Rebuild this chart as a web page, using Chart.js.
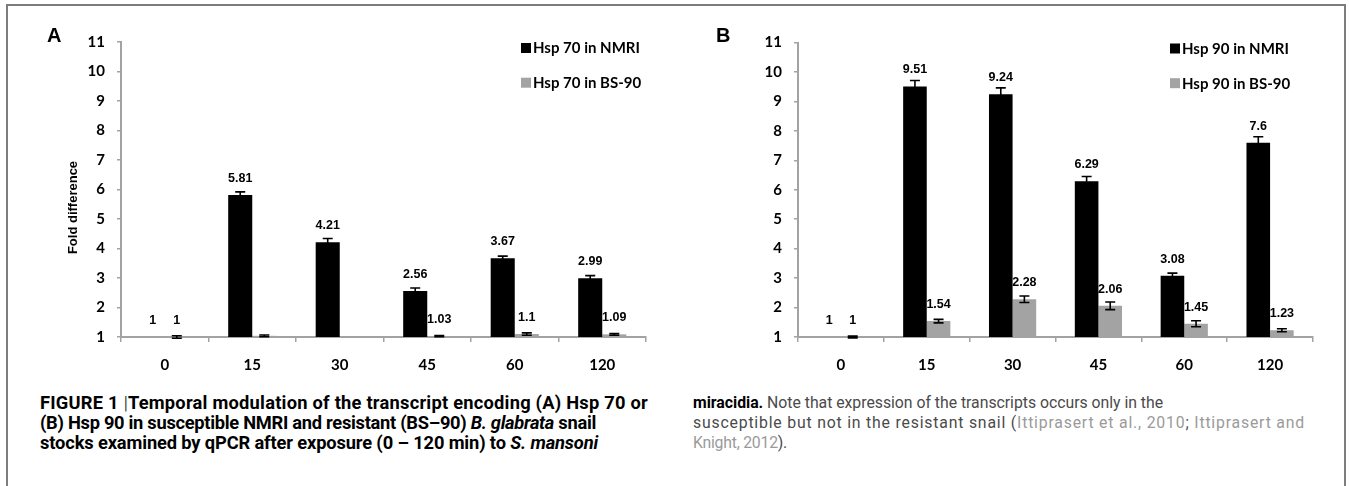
<!DOCTYPE html>
<html><head><meta charset="utf-8">
<script src="https://cdn.jsdelivr.net/npm/chart.js@4.4.0/dist/chart.umd.min.js"></script>
<style>
html,body{margin:0;padding:0;background:#fff;width:1349px;height:486px;overflow:hidden;position:relative;font-family:Roboto,sans-serif}
#frame{position:absolute;left:6px;top:4px;width:1340px;height:520px;border:2px solid #7d7d7d;border-bottom:none;box-sizing:border-box}
.panel{position:absolute;top:0;height:390px}
#wa{left:0;width:675px}
#wb{left:675px;width:674px}
.letter{position:absolute;top:24px;font:bold 20px 'Liberation Sans',Arial,sans-serif;color:#000;line-height:23px}
.cap{position:absolute;top:393px;line-height:20px;white-space:nowrap}
.cap .ln{display:inline-block;white-space:nowrap}
#capL{left:40px;font-weight:bold;color:#000;font-size:18.3px}
#capR{left:693px;color:#4a4a4a;font-size:15.8px}
#capR b{color:#000}
.ref{color:#9a9a9a}
.bar{font-weight:300}
</style></head>
<body>
<div id="frame"></div>
<div class="panel" id="wa"><canvas id="ca" width="675" height="390"></canvas></div>
<div class="panel" id="wb"><canvas id="cb" width="674" height="390"></canvas></div>
<div class="letter" style="left:47px">A</div>
<div class="letter" style="left:716px">B</div>
<div class="cap" id="capL"><span class="ln" data-w="608">FIGURE 1 <span class="bar">|</span>Temporal modulation of the transcript encoding (A) Hsp 70 or</span><br><span class="ln" data-w="556">(B) Hsp 90 in susceptible NMRI and resistant (BS–90) <i>B. glabrata</i> snail</span><br><span class="ln" data-w="558">stocks examined by qPCR after exposure (0 – 120 min) to <i>S. mansoni</i></span></div>
<div class="cap" id="capR"><span class="ln" data-w="470"><b>miracidia.</b> Note that expression of the transcripts occurs only in the</span><br><span class="ln" data-w="612">susceptible but not in the resistant snail (<span class="ref">Ittiprasert et al., 2010</span>; <span class="ref">Ittiprasert and</span></span><br><span class="ln" data-w="94"><span class="ref">Knight, 2012</span>).</span></div>
<script>
// ---- data ----
const timePoints = ['0', '15', '30', '45', '60', '120'];
const yMin = 1;
const yMax = 11;
const yStep = 1;

const hsp70NMRI = [1, 5.81, 4.21, 2.56, 3.67, 2.99];
const hsp70NMRIErr = [0, 0.11, 0.13, 0.10, 0.07, 0.09];
const hsp70NMRILabels = ['1', '5.81', '4.21', '2.56', '3.67', '2.99'];
const hsp70BS90 = [1, 1.04, 1.0, 1.03, 1.1, 1.09];
const hsp70BS90Err = [0.04, 0.03, 0, 0.02, 0.04, 0.03];
const hsp70BS90Labels = ['1', null, null, '1.03', '1.1', '1.09'];

const hsp90NMRI = [1, 9.51, 9.24, 6.29, 3.08, 7.6];
const hsp90NMRIErr = [0, 0.20, 0.22, 0.16, 0.09, 0.20];
const hsp90NMRILabels = ['1', '9.51', '9.24', '6.29', '3.08', '7.6'];
const hsp90BS90 = [1, 1.54, 2.28, 2.06, 1.45, 1.23];
const hsp90BS90Err = [0.03, 0.06, 0.11, 0.13, 0.10, 0.05];
const hsp90BS90Labels = ['1', '1.54', '2.28', '2.06', '1.45', '1.23'];

const seriesColors = ['#000000', '#a3a3a3'];

// fit caption lines to the reference line widths
document.querySelectorAll('.cap .ln').forEach(el => {
  const target = parseFloat(el.dataset.w);
  const w = el.getBoundingClientRect().width;
  const n = el.textContent.length;
  el.style.letterSpacing = ((target - w) / n).toFixed(3) + 'px';
});

// ---- plugin: error bars, value labels, legend, y title ----
const decor = {
  id: 'decor',
  afterDatasetsDraw(chart, args, opts) {
    const ctx = chart.ctx;
    const ys = chart.scales.y;
    const ca = chart.chartArea;
    ctx.save();
    chart.data.datasets.forEach((ds, i) => {
      const meta = chart.getDatasetMeta(i);
      meta.data.forEach((bar, j) => {
        const v = ds.data[j];
        const e = ds.errors[j];
        if (v == null) return;
        if (e) {
          const yt = ys.getPixelForValue(v + e);
          const yb = ys.getPixelForValue(v - e);
          ctx.strokeStyle = '#000';
          ctx.lineWidth = 1.6;
          ctx.beginPath();
          ctx.moveTo(bar.x, yt); ctx.lineTo(bar.x, yb);
          ctx.moveTo(bar.x - 5, yt); ctx.lineTo(bar.x + 5, yt);
          ctx.moveTo(bar.x - 5, yb); ctx.lineTo(bar.x + 5, yb);
          ctx.stroke();
        }
        const lab = ds.valueLabels[j];
        if (lab) {
          ctx.fillStyle = '#000';
          ctx.font = 'bold 12.5px "Liberation Sans", Arial, sans-serif';
          ctx.textAlign = 'center';
          ctx.textBaseline = 'middle';
          ctx.fillText(lab, bar.x, ys.getPixelForValue(v) - 16.5);
        }
      });
    });
    // legend
    ctx.font = 'bold 15px Lato, sans-serif';
    ctx.textAlign = 'left';
    ctx.textBaseline = 'middle';
    chart.data.datasets.forEach((ds, i) => {
      const cy = ca.top + opts.legendTop + i * opts.legendGap;
      const sx = ca.right - opts.legendRight;
      ctx.fillStyle = ds.backgroundColor;
      ctx.fillRect(sx, cy - 5, 10, 10);
      ctx.fillStyle = '#000';
      ctx.fillText(ds.label, sx + 12, cy + 0.5);
    });
    // y title
    if (opts.yTitle) {
      ctx.translate(ca.left - 48, (ca.top + ca.bottom) / 2 + 18);
      ctx.rotate(-Math.PI / 2);
      ctx.font = 'bold 13px "Liberation Sans", Arial, sans-serif';
      ctx.textAlign = 'center';
      ctx.textBaseline = 'middle';
      ctx.fillStyle = '#000';
      ctx.fillText(opts.yTitle, 0, 0);
    }
    ctx.restore();
  }
};

function makeChart(canvasId, names, vals, errs, labs, geom) {
  const datasets = names.map((n, i) => ({
    label: n,
    data: vals[i],
    errors: errs[i],
    valueLabels: labs[i],
    backgroundColor: seriesColors[i],
    borderWidth: 0,
    barPercentage: 1,
    categoryPercentage: 0.55
  }));
  const axisCol = '#a3a3a3';
  return new Chart(document.getElementById(canvasId), {
    type: 'bar',
    data: { labels: timePoints, datasets },
    options: {
      responsive: false,
      animation: false,
      devicePixelRatio: 1,
      layout: { padding: { left: 0, right: geom.right, top: geom.top, bottom: geom.bottom } },
      plugins: {
        legend: { display: false },
        tooltip: { enabled: false },
        decor: { legendTop: 6, legendGap: 34.7, legendRight: geom.legendRight, yTitle: geom.yTitle }
      },
      scales: {
        x: {
          grid: { drawOnChartArea: false, tickLength: 5, color: axisCol, lineWidth: 1.5 },
          border: { color: axisCol, width: 2 },
          ticks: { color: '#000', font: { family: 'Lato', weight: 'bold', size: 15 }, padding: 14, maxRotation: 0 },
          afterFit: s => { s.height = geom.xHeight; }
        },
        y: {
          min: yMin, max: yMax,
          grid: { drawOnChartArea: false, tickLength: 4, color: axisCol, lineWidth: 1.5 },
          border: { color: axisCol, width: 2 },
          ticks: { stepSize: yStep, color: '#000', font: { family: 'Lato', weight: 'bold', size: 15 }, padding: 12 },
          afterFit: s => { s.width = geom.yWidth; }
        }
      }
    },
    plugins: [decor]
  });
}

makeChart('ca', ['Hsp 70 in NMRI', 'Hsp 70 in BS-90'],
  [hsp70NMRI, hsp70BS90], [hsp70NMRIErr, hsp70BS90Err], [hsp70NMRILabels, hsp70BS90Labels],
  { right: 29, top: 42, bottom: 13, xHeight: 40, yWidth: 121, legendRight: 125, yTitle: 'Fold difference' });

makeChart('cb', ['Hsp 90 in NMRI', 'Hsp 90 in BS-90'],
  [hsp90NMRI, hsp90BS90], [hsp90NMRIErr, hsp90BS90Err], [hsp90NMRILabels, hsp90BS90Labels],
  { right: 36, top: 42.5, bottom: 13, xHeight: 40, yWidth: 123, legendRight: 143, yTitle: null });
</script>
</body></html>
